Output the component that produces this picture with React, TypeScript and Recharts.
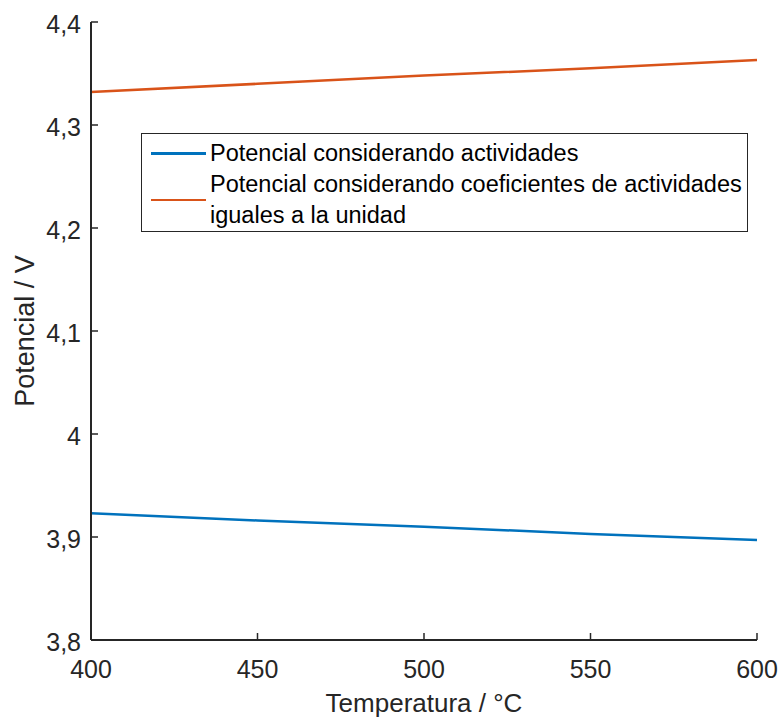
import { Line, LineChart, XAxis, YAxis } from 'recharts'

document.body.style.margin = '0'

const temperatures = [400, 450, 500, 550, 600]
const potentialActivities = [3.923, 3.916, 3.91, 3.903, 3.897]
const potentialUnitCoefficients = [4.332, 4.34, 4.348, 4.355, 4.363]

const xTicks = [400, 450, 500, 550, 600]
const yTicks = [3.8, 3.9, 4.0, 4.1, 4.2, 4.3, 4.4]

const seriesNames = [
  'Potencial considerando actividades',
  'Potencial considerando coeficientes de actividades iguales a la unidad',
]

const data = temperatures.map((t, i) => ({
  t,
  act: potentialActivities[i],
  unit: potentialUnitCoefficients[i],
}))

const FONT = '"Liberation Sans", Arial, Helvetica, sans-serif'
const AXIS = '#262626'
const BLUE = '#0072BD'
const ORANGE = '#D95319'
const TICK_LEN = 7

const fmtY = (v: number) =>
  Number.isInteger(v) ? String(v) : v.toFixed(1).replace('.', ',')

function XTick(props: any) {
  const { x, y, payload } = props
  return (
    <g>
      <line x1={x} y1={y} x2={x} y2={y - TICK_LEN} stroke={AXIS} strokeWidth={1.5} />
      <text
        x={x}
        y={y + 29}
        textAnchor="middle"
        dominantBaseline="central"
        fill={AXIS}
        fontSize={25}
        fontFamily={FONT}
      >
        {payload.value}
      </text>
    </g>
  )
}

function YTick(props: any) {
  const { x, y, payload } = props
  return (
    <g>
      <line x1={x} y1={y} x2={x + TICK_LEN} y2={y} stroke={AXIS} strokeWidth={1.5} />
      <text
        x={x - 10}
        y={y + 2}
        textAnchor="end"
        dominantBaseline="central"
        fill={AXIS}
        fontSize={25}
        fontFamily={FONT}
      >
        {fmtY(payload.value)}
      </text>
    </g>
  )
}

// legend box drawn over the plot area
function LegendBox() {
  const rowStyle = { display: 'flex', alignItems: 'center' as const }
  const sample = (color: string) => (
    <div style={{ width: 55, height: 2.5, background: color, marginRight: 4, flexShrink: 0 }} />
  )
  return (
    <div
      style={{
        position: 'absolute',
        left: 141,
        top: 133,
        boxSizing: 'border-box',
        width: 607,
        height: 99,
        border: `1px solid ${AXIS}`,
        background: '#fff',
        fontFamily: FONT,
        fontSize: 23.5,
        color: '#000',
        lineHeight: '31px',
        padding: '4px 0 0 9px',
      }}
    >
      <div style={rowStyle}>
        {sample(BLUE)}
        <span>{seriesNames[0]}</span>
      </div>
      <div style={rowStyle}>
        {sample(ORANGE)}
        <span style={{ width: 540 }}>{seriesNames[1]}</span>
      </div>
    </div>
  )
}

export default function App() {
  return (
    <div style={{ position: 'relative', width: 783, height: 719, background: '#fff' }}>
      <LineChart
        width={783}
        height={719}
        data={data}
        margin={{ top: 22, right: 26, bottom: 0, left: 0 }}
      >
        <XAxis
          dataKey="t"
          type="number"
          domain={[400, 600]}
          ticks={xTicks}
          height={79}
          tickSize={0}
          tickMargin={0}
          tickLine={false}
          tick={<XTick />}
          axisLine={{ stroke: AXIS, strokeWidth: 2 }}
          label={{
            content: (p: any) => {
              const vb = p.viewBox
              return (
                <text
                  x={vb.x + vb.width / 2}
                  y={vb.y + 63}
                  textAnchor="middle"
                  dominantBaseline="central"
                  fill={AXIS}
                  fontSize={26}
                  fontFamily={FONT}
                >
                  Temperatura / °C
                </text>
              )
            },
          }}
        />
        <YAxis
          type="number"
          domain={[3.8, 4.4]}
          ticks={yTicks}
          width={91}
          tickSize={0}
          tickMargin={0}
          tickLine={false}
          tick={<YTick />}
          axisLine={{ stroke: AXIS, strokeWidth: 2 }}
          label={{
            content: (p: any) => {
              const vb = p.viewBox
              const cy = vb.y + vb.height / 2
              return (
                <text
                  x={25}
                  y={cy}
                  transform={`rotate(-90, 25, ${cy})`}
                  textAnchor="middle"
                  dominantBaseline="central"
                  fill={AXIS}
                  fontSize={27}
                  fontFamily={FONT}
                >
                  Potencial / V
                </text>
              )
            },
          }}
        />
        <Line
          type="linear"
          dataKey="act"
          name={seriesNames[0]}
          stroke={BLUE}
          strokeWidth={2.5}
          dot={false}
          isAnimationActive={false}
        />
        <Line
          type="linear"
          dataKey="unit"
          name={seriesNames[1]}
          stroke={ORANGE}
          strokeWidth={2.5}
          dot={false}
          isAnimationActive={false}
        />
      </LineChart>
      <LegendBox />
    </div>
  )
}
